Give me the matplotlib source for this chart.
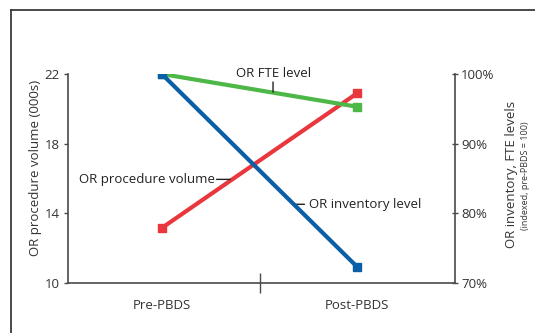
import numpy as np
import matplotlib.pyplot as plt
from matplotlib.lines import Line2D

plt.rcParams['font.family'] = ['Open Sans', 'DejaVu Sans']

# Data
periods = ["Pre-PBDS", "Post-PBDS"]
procedure_volume = [13.16, 20.9]      # 000s, left axis
inventory_level = [100.0, 72.3]       # indexed %, right axis
fte_level = [100.0, 95.3]             # indexed %, right axis

left_ticks = [10, 14, 18, 22]
right_ticks = [70, 80, 90, 100]

red = "#E8383D"
blue = "#0A5FA6"
green = "#4DB848"
axis_gray = "#4a4a4a"

fig = plt.figure(figsize=(5.35, 3.33), dpi=100)
ax = fig.add_axes([68 / 535, 1 - 283 / 333, 387 / 535, 209 / 333])
ax2 = ax.twinx()

x = np.arange(len(periods))

ax.plot(x, procedure_volume, color=red, lw=3, marker="s", ms=5.5, solid_capstyle="butt", zorder=3)
ax2.plot(x, fte_level, color=green, lw=3, marker="s", ms=5.5, solid_capstyle="butt", zorder=3)
ax2.plot(x, inventory_level, color=blue, lw=3, marker="s", ms=5.5, solid_capstyle="butt", zorder=4)

ax.set_xlim(-0.48, 1.5)
ax.set_ylim(10, 22)
ax2.set_ylim(70, 100)

ax.set_yticks(left_ticks)
ax.set_yticklabels([str(t) for t in left_ticks])
ax2.set_yticks(right_ticks)
ax2.set_yticklabels([f"{t}%" for t in right_ticks])

# x axis: category labels without ticks, single separator tick in the middle
ax.set_xticks([0.5])
ax.set_xticklabels([""])
ax.tick_params(axis="x", direction="inout", length=15, width=1, color=axis_gray)
for xi, name in zip(x, periods):
    ax.text(xi, -0.075, name, transform=ax.get_xaxis_transform(), ha="center", va="top",
            fontsize=9.5, color="#333333")

ax.tick_params(axis="y", direction="out", length=3, width=1, color=axis_gray,
               labelsize=9.5, labelcolor="#333333", pad=3)
ax2.tick_params(axis="y", direction="inout", length=5, width=1, color=axis_gray,
                labelsize=9.5, labelcolor="#333333", pad=2)

for a in (ax, ax2):
    a.spines["top"].set_visible(False)
    for s in ("left", "right", "bottom"):
        a.spines[s].set_color(axis_gray)
        a.spines[s].set_linewidth(1.2)
ax.spines["right"].set_visible(False)
ax2.spines["left"].set_visible(False)
ax2.spines["bottom"].set_visible(False)

# axis titles
fig.text(36 / 535, 1 - 168 / 333, "OR procedure volume (000s)", rotation=90,
         ha="center", va="center", fontsize=9.5, color="#333333")
fig.text(512 / 535, 1 - 174 / 333, "OR inventory, FTE levels", rotation=90,
         ha="center", va="center", fontsize=9.5, color="#333333")
fig.text(525 / 535, 1 - 176 / 333, "(indexed, pre-PBDS = 100)", rotation=90,
         ha="center", va="center", fontsize=6.5, color="#333333")

# series labels with short leader lines
lead = dict(arrowstyle="-", color="#222222", lw=1, shrinkA=0, shrinkB=0)
ax2.annotate("", xy=(0.569, 97.4), xytext=(0.569, 98.85), arrowprops=lead)
ax2.text(0.574, 100.1, "OR FTE level", ha="center", va="center", fontsize=9.5, color="#222222")

ax.annotate("", xy=(0.35, 15.95), xytext=(0.28, 15.95), arrowprops=lead)
ax.text(0.27, 15.95, "OR procedure volume", ha="right", va="center", fontsize=9.5, color="#222222")

ax2.annotate("", xy=(0.675, 81.3), xytext=(0.73, 81.3), arrowprops=lead)
ax2.text(0.755, 81.3, "OR inventory level", ha="left", va="center", fontsize=9.5, color="#222222")

# outer frame (open on right and bottom)
fig.add_artist(Line2D([10.5 / 535, 1], [1 - 9.5 / 333] * 2, color="#3a3a3a", lw=1.3))
fig.add_artist(Line2D([10.5 / 535] * 2, [0, 1 - 9.5 / 333], color="#3a3a3a", lw=1.3))

fig.savefig("out.png", dpi=100)
